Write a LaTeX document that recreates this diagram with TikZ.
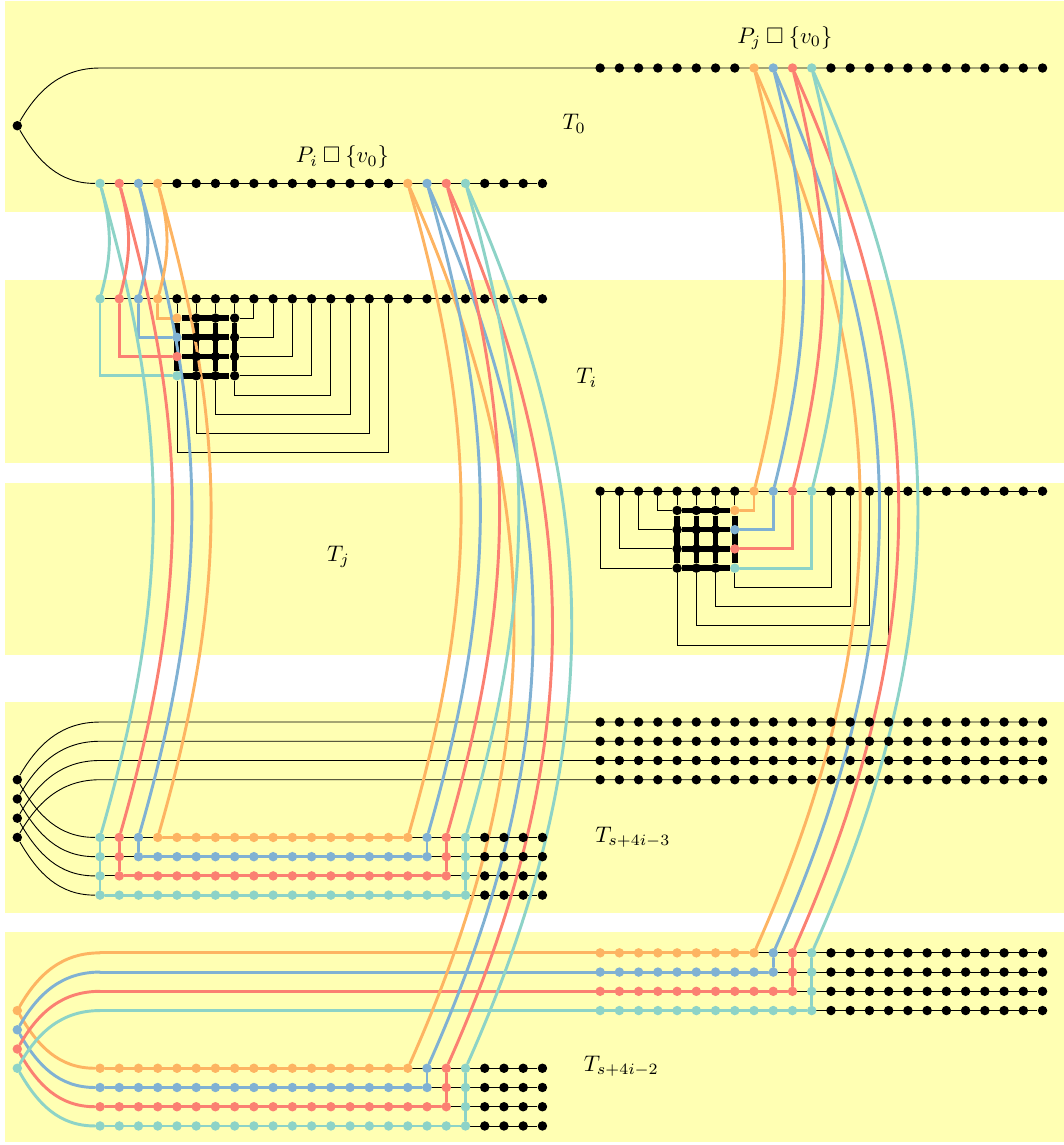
\documentclass[tikz,border=0pt]{standalone}
\usepackage{amsmath}
\usepackage{amssymb}
\usepackage{tikz}
\usepackage{xcolor}
\definecolor{pathteal}{RGB}{141,211,199}
\definecolor{pathred}{RGB}{251,128,114}
\definecolor{pathblue}{RGB}{128,177,211}
\definecolor{pathorange}{RGB}{253,180,98}
\definecolor{bandyellow}{RGB}{255,255,179}
\colorlet{path0}{pathteal}
\colorlet{path1}{pathred}
\colorlet{path2}{pathblue}
\colorlet{path3}{pathorange}
\pgfdeclarelayer{back}
\pgfdeclarelayer{links}
\pgfsetlayers{back,links,main}

\begin{document}
\begin{tikzpicture}[
    x=0.3cm, y=0.3cm,
    vtx/.style={circle, fill=black, inner sep=0pt, minimum size=4.2pt},
    band/.style={fill=bandyellow},
    route/.style={line width=1.3pt, line cap=round},
    gridedge/.style={line width=2.5pt},
    tag/.style={font=\normalsize}
]
\useasboundingbox (-5.2,3.536) rectangle (50.08,-55.99);

% Bands
\begin{pgfonlayer}{back}
\foreach \ya/\yb in {3.48/-7.49, -11.02/-20.54, -21.58/-30.52, -32.97/-43.94, -44.93/-55.85}
    \fill[band] (-4.94,\ya) rectangle (50.2,\yb);
\end{pgfonlayer}

% T_0
\node[vtx] (t0root) at (-4.3,-3) {};
\coordinate (t0s) at (0,0);
\foreach \x in {26,...,33} \node[vtx] (t0u-\x) at (\x,0) {};
\foreach \x in {34,...,37} {
    \pgfmathtruncatemacro\d{37-\x}
    \node[vtx, fill=path\d] (t0u-\x) at (\x,0) {};
}
\foreach \x in {38,...,49} \node[vtx] (t0u-\x) at (\x,0) {};
\foreach \x in {0,...,3} \node[vtx, fill=path\x] (t0l-\x) at (\x,-6) {};
\foreach \x in {4,...,15} \node[vtx] (t0l-\x) at (\x,-6) {};
\foreach \x in {16,...,19} {
    \pgfmathtruncatemacro\d{19-\x}
    \node[vtx, fill=path\d] (t0l-\x) at (\x,-6) {};
}
\foreach \x in {20,...,23} \node[vtx] (t0l-\x) at (\x,-6) {};

% T_i
\foreach \x in {0,...,3} \node[vtx, fill=path\x] (ti-\x) at (\x,-12) {};
\foreach \x in {4,...,23} \node[vtx] (ti-\x) at (\x,-12) {};
\foreach \r in {13,...,16} {
    \pgfmathtruncatemacro\d{16-\r}
    \node[vtx, fill=path\d] (gi-4-\r) at (4,-\r) {};
    \foreach \c in {5,6,7} \node[vtx] (gi-\c-\r) at (\c,-\r) {};
}

% T_j
\foreach \x in {26,...,33} \node[vtx] (tj-\x) at (\x,-22) {};
\foreach \x in {34,...,37} {
    \pgfmathtruncatemacro\d{37-\x}
    \node[vtx, fill=path\d] (tj-\x) at (\x,-22) {};
}
\foreach \x in {38,...,49} \node[vtx] (tj-\x) at (\x,-22) {};
\foreach \r in {23,...,26} {
    \pgfmathtruncatemacro\d{26-\r}
    \foreach \c in {30,31,32} \node[vtx] (gj-\c-\r) at (\c,-\r) {};
    \node[vtx, fill=path\d] (gj-33-\r) at (33,-\r) {};
}

% T_{s+4i-3}
\foreach \k in {0,...,3} {
    \node[vtx] (ra-\k) at (-4.3,-37-\k) {};
    \coordinate (as-\k) at (0,-34-\k);
    \foreach \x in {26,...,49} \node[vtx] (ua-\k-\x) at (\x,-34-\k) {};
    \foreach \x in {0,...,19} {
        \pgfmathtruncatemacro\d{min(min(\x,19-\x),3-\k)}
        \node[vtx, fill=path\d] (la-\k-\x) at (\x,-40-\k) {};
    }
    \foreach \x in {20,...,23} \node[vtx] (la-\k-\x) at (\x,-40-\k) {};
}

% T_{s+4i-2}
\foreach \k in {0,...,3} {
    \pgfmathtruncatemacro\e{3-\k}
    \node[vtx, fill=path\e] (rb-\k) at (-4.3,-49-\k) {};
    \coordinate (bs-\k) at (0,-46-\k);
    \foreach \x in {26,...,37} {
        \pgfmathtruncatemacro\d{min(37-\x,3-\k)}
        \node[vtx, fill=path\d] (ub-\k-\x) at (\x,-46-\k) {};
    }
    \foreach \x in {38,...,49} \node[vtx] (ub-\k-\x) at (\x,-46-\k) {};
    \foreach \x in {0,...,19} {
        \pgfmathtruncatemacro\d{min(19-\x,3-\k)}
        \node[vtx, fill=path\d] (lb-\k-\x) at (\x,-52-\k) {};
    }
    \foreach \x in {20,...,23} \node[vtx] (lb-\k-\x) at (\x,-52-\k) {};
}

% Labels
\node[tag] (lpi) at (12.6,-4.63) {$P_i \mathbin{\Box} \{v_0\}$};
\node[tag] (lpj) at (35.6,1.56) {$P_j \mathbin{\Box} \{v_0\}$};
\node[tag] (lt0) at (24.65,-2.9) {$T_0$};
\node[tag] (lti) at (25.3,-16.1) {$T_i$};
\node[tag] (ltj) at (12.4,-25.4) {$T_j$};
\node[tag] (lta) at (27.7,-40.0) {$T_{s+4i-3}$};
\node[tag] (ltb) at (27.1,-51.9) {$T_{s+4i-2}$};

\begin{pgfonlayer}{links}
% Tree edges
\draw (t0root) to[out=60,in=180] (t0s) -- (t0u-49);
\draw (t0root) to[out=-60,in=180] (t0l-0);
\draw (t0l-0) -- (t0l-23);

\draw (ti-0) -- (ti-23);
\foreach \c in {4,...,7} \draw (ti-\c) -- (gi-\c-13);
\foreach \x/\r in {8/13,9/14,10/15,11/16} \draw (ti-\x) |- (gi-7-\r);
\foreach \x/\c/\d in {12/7/5,13/6/6,14/5/7,15/4/8} \draw (ti-\x) -- ++(0,-\d) -| (gi-\c-16);
\foreach \r in {13,...,16} \draw[gridedge] (gi-4-\r) -- (gi-7-\r);
\foreach \c in {4,...,7} \draw[gridedge] (gi-\c-13) -- (gi-\c-16);

\draw (tj-26) -- (tj-49);
\foreach \c in {30,...,33} \draw (tj-\c) -- (gj-\c-23);
\foreach \x/\r in {29/23,28/24,27/25,26/26} \draw (tj-\x) |- (gj-30-\r);
\foreach \x/\c/\d in {38/33/5,39/32/6,40/31/7,41/30/8} \draw (tj-\x) -- ++(0,-\d) -| (gj-\c-26);
\foreach \r in {23,...,26} \draw[gridedge] (gj-30-\r) -- (gj-33-\r);
\foreach \c in {30,...,33} \draw[gridedge] (gj-\c-23) -- (gj-\c-26);

\foreach \k in {0,...,3} {
    \draw (ra-\k) to[out=60,in=180] (as-\k) -- (ua-\k-49);
    \draw (ra-\k) to[out=-60,in=180] (la-\k-0);
    \draw (la-\k-0) -- (la-\k-23);
    \draw (bs-\k) -- (ub-\k-49);
    \draw (lb-\k-0) -- (lb-\k-23);
}

% Coloured paths inside the trees
\foreach \x/\r/\c in {0/16/pathteal,1/15/pathred,2/14/pathblue,3/13/pathorange}
    \draw[route,\c] (ti-\x) |- (gi-4-\r);
\foreach \x/\r/\c in {34/23/pathorange,35/24/pathblue,36/25/pathred,37/26/pathteal}
    \draw[route,\c] (tj-\x) |- (gj-33-\r);

\draw[route,pathorange] (la-0-3) -- (la-0-16);
\draw[route,pathblue] (la-0-2) -- (la-1-2) -- (la-1-17) -- (la-0-17);
\draw[route,pathred] (la-0-1) -- (la-2-1) -- (la-2-18) -- (la-0-18);
\draw[route,pathteal] (la-0-0) -- (la-3-0) -- (la-3-19) -- (la-0-19);

\foreach \k/\c in {0/pathorange,1/pathblue,2/pathred,3/pathteal} {
    \draw[route,\c] (rb-\k) to[out=60,in=180] (bs-\k);
    \draw[route,\c] (rb-\k) to[out=-60,in=180] (lb-\k-0);
}
\draw[route,pathorange] (bs-0) -- (ub-0-34);
\draw[route,pathblue] (bs-1) -- (ub-1-35) -- (ub-0-35);
\draw[route,pathred] (bs-2) -- (ub-2-36) -- (ub-0-36);
\draw[route,pathteal] (bs-3) -- (ub-3-37) -- (ub-0-37);
\draw[route,pathorange] (lb-0-0) -- (lb-0-16);
\draw[route,pathblue] (lb-1-0) -- (lb-1-17) -- (lb-0-17);
\draw[route,pathred] (lb-2-0) -- (lb-2-18) -- (lb-0-18);
\draw[route,pathteal] (lb-3-0) -- (lb-3-19) -- (lb-0-19);

% Paths between the trees
\foreach \x/\c in {0/pathteal,1/pathred,2/pathblue,3/pathorange} {
    \draw[route,\c] (t0l-\x) to[bend left=15] (ti-\x);
    \draw[route,\c] (t0l-\x) to[bend left=16] (la-0-\x);
}
\foreach \x/\c in {16/pathorange,17/pathblue,18/pathred,19/pathteal} {
    \draw[route,\c] (t0l-\x) to[bend left=16] (la-0-\x);
    \draw[route,\c] (t0l-\x) to[bend left=24] (lb-0-\x);
}
\foreach \x/\c in {34/pathorange,35/pathblue,36/pathred,37/pathteal} {
    \draw[route,\c] (t0u-\x) to[bend left=14] (tj-\x);
    \draw[route,\c] (t0u-\x) to[bend left=24] (ub-0-\x);
}
\end{pgfonlayer}

\end{tikzpicture}
\end{document}
